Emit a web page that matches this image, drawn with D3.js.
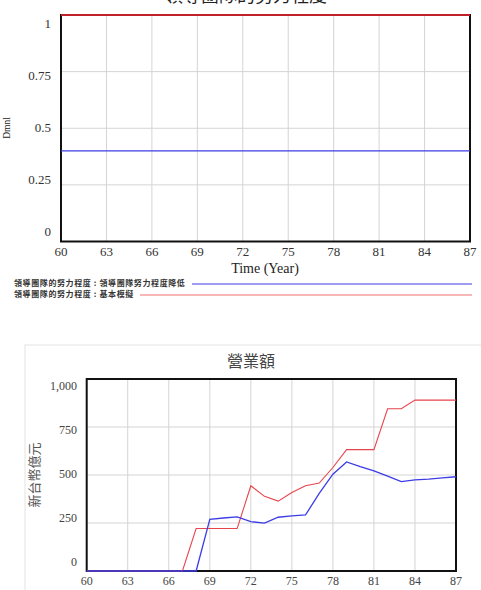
<!DOCTYPE html>
<html>
<head>
<meta charset="utf-8">
<script src="https://cdn.jsdelivr.net/npm/d3@7"></script>
<style>
body { margin: 0; background: white; }
svg { display: block; }
</style>
</head>
<body>
<div id="chart"></div>
<script>
var width = 481
var height = 590

// Data

var years = d3.range(60, 88)
var xTicks = [60, 63, 66, 69, 72, 75, 78, 81, 84, 87]

// top chart: 領導團隊的努力程度
var effortTicks = [0, 0.25, 0.5, 0.75, 1]
var effortLow = [0.4, 0.4]
var effortBase = [1, 1]
var effortYears = [60, 87]

// bottom chart: 營業額
var revenueTicks = [0, 250, 500, 750, 1000]
var revenueBase = [0, 0, 0, 0, 0, 0, 0, 0, 221, 221, 221, 221, 444, 389, 364, 409, 444, 458, 539, 632, 632, 632, 845, 845, 890, 890, 890, 890]
var revenueLow = [0, 0, 0, 0, 0, 0, 0, 0, 0, 269, 276, 282, 257, 249, 280, 287, 292, 404, 504, 568, 544, 522, 494, 466, 475, 479, 485, 491]

var legendLabels = ["領導團隊的努力程度 : 領導團隊努力程度降低", "領導團隊的努力程度 : 基本模擬"]

var blue = "#3c3ce6"
var red = "#e8444c"
var grid = "#d4d4d4"

var svg = d3.select("#chart")
    .append("svg")
    .attr("width", width)
    .attr("height", height)
    .style("background-color", "white")

// ---------- top chart ----------

var x1 = d3.scaleLinear().domain([60, 87]).range([61, 470])
var y1 = d3.scaleLinear().domain([0, 1]).range([241.5, 15])
var y1Lab = d3.scaleLinear().domain([0, 1]).range([233, 25])

var topChart = svg.append("g")

topChart.append("text")
    .attr("x", 246).attr("y", 2)
    .attr("text-anchor", "middle")
    .style("font-family", "Noto Sans CJK TC")
    .style("font-size", "18px")
    .style("fill", "#222")
    .text("領導團隊的努力程度")

topChart.append("g")
    .selectAll("line")
    .data(xTicks)
    .enter().append("line")
    .attr("x1", d => x1(d)).attr("x2", d => x1(d))
    .attr("y1", y1(0)).attr("y2", y1(1))
    .style("stroke", grid)

topChart.append("g")
    .selectAll("line")
    .data(effortTicks)
    .enter().append("line")
    .attr("x1", x1(60)).attr("x2", x1(87))
    .attr("y1", d => y1(d)).attr("y2", d => y1(d))
    .style("stroke", grid)

topChart.append("rect")
    .attr("x", x1(60)).attr("y", y1(1))
    .attr("width", x1(87) - x1(60)).attr("height", y1(0) - y1(1))
    .style("fill", "none").style("stroke", "#111").style("stroke-width", 2)

topChart.append("g")
    .selectAll("text")
    .data(effortTicks)
    .enter().append("text")
    .attr("x", 51).attr("y", d => y1Lab(d))
    .attr("text-anchor", "end")
    .attr("dominant-baseline", "middle")
    .style("font-family", "Liberation Serif")
    .style("font-size", "13px")
    .style("fill", "#333")
    .text(d => d)

topChart.append("g")
    .selectAll("text")
    .data(xTicks)
    .enter().append("text")
    .attr("x", d => x1(d)).attr("y", 253)
    .attr("text-anchor", "middle")
    .attr("dominant-baseline", "middle")
    .style("font-family", "Liberation Serif")
    .style("font-size", "13px")
    .style("fill", "#333")
    .text(d => d)

topChart.append("text")
    .attr("x", 265).attr("y", 270)
    .attr("text-anchor", "middle")
    .attr("dominant-baseline", "middle")
    .style("font-family", "Liberation Serif")
    .style("font-size", "14px")
    .style("fill", "#222")
    .text("Time (Year)")

topChart.append("text")
    .attr("transform", "translate(8,128) rotate(-90)")
    .attr("text-anchor", "middle")
    .attr("dominant-baseline", "middle")
    .style("font-family", "Liberation Serif")
    .style("font-size", "9.5px")
    .style("fill", "#222")
    .text("Dmnl")

var line1 = d3.line()
    .x((d, i) => x1(effortYears[i]))
    .y(d => y1(d))

topChart.append("path").datum(effortLow)
    .attr("d", line1)
    .style("fill", "none").style("stroke", blue).style("stroke-width", 1.2)

topChart.append("path").datum(effortBase)
    .attr("d", line1)
    .style("fill", "none").style("stroke", "#c02028").style("stroke-width", 2)

// legend
var legend = topChart.append("g")
var legendY = [284, 295]
var legendStart = [192, 140]
var legendColors = [blue, "#f07070"]

legend.selectAll("text")
    .data(legendLabels)
    .enter().append("text")
    .attr("x", 14).attr("y", (d, i) => legendY[i])
    .attr("dominant-baseline", "middle")
    .style("font-family", "Noto Sans CJK TC")
    .style("font-size", "8px")
    .style("letter-spacing", "0.6px")
    .style("font-weight", "bold")
    .style("fill", "#333")
    .text(d => d)

legend.selectAll("line")
    .data(legendLabels)
    .enter().append("line")
    .attr("x1", (d, i) => legendStart[i]).attr("x2", 472)
    .attr("y1", (d, i) => legendY[i]).attr("y2", (d, i) => legendY[i])
    .style("stroke", (d, i) => legendColors[i])
    .style("stroke-width", 1.2)

// ---------- bottom chart ----------

var x2 = d3.scaleLinear().domain([60, 87]).range([86.7, 456])
var y2 = d3.scaleLinear().domain([0, 1000]).range([571, 379])
var y2Lab = d3.scaleLinear().domain([0, 1000]).range([563, 387])

var bottomChart = svg.append("g")

bottomChart.append("rect")
    .attr("x", 25).attr("y", 345)
    .attr("width", 500).attr("height", 300)
    .style("fill", "none").style("stroke", "#e4e4e4")

bottomChart.append("text")
    .attr("x", 251).attr("y", 363)
    .attr("text-anchor", "middle")
    .attr("dominant-baseline", "middle")
    .style("font-family", "Noto Sans CJK TC")
    .style("font-size", "16px")
    .style("fill", "#444")
    .text("營業額")

bottomChart.append("g")
    .selectAll("line")
    .data(xTicks)
    .enter().append("line")
    .attr("x1", d => x2(d)).attr("x2", d => x2(d))
    .attr("y1", y2(0)).attr("y2", y2(1000))
    .style("stroke", grid)

bottomChart.append("g")
    .selectAll("line")
    .data(revenueTicks)
    .enter().append("line")
    .attr("x1", x2(60)).attr("x2", x2(87))
    .attr("y1", d => y2(d)).attr("y2", d => y2(d))
    .style("stroke", grid)

bottomChart.append("rect")
    .attr("x", x2(60)).attr("y", y2(1000))
    .attr("width", x2(87) - x2(60)).attr("height", y2(0) - y2(1000))
    .style("fill", "none").style("stroke", "#111").style("stroke-width", 2)

var line2 = d3.line()
    .x((d, i) => x2(years[i]))
    .y(d => y2(d))

bottomChart.append("path").datum(revenueBase)
    .attr("d", line2)
    .style("fill", "none").style("stroke", red).style("stroke-width", 1.1)

bottomChart.append("path").datum(revenueLow)
    .attr("d", line2)
    .style("fill", "none").style("stroke", blue).style("stroke-width", 1.3)

bottomChart.append("g")
    .selectAll("text")
    .data(revenueTicks)
    .enter().append("text")
    .attr("x", 77).attr("y", d => y2Lab(d))
    .attr("text-anchor", "end")
    .attr("dominant-baseline", "middle")
    .style("font-family", "Liberation Serif")
    .style("font-size", "12px")
    .style("fill", "#444")
    .text(d => d3.format(",")(d))

bottomChart.append("g")
    .selectAll("text")
    .data(xTicks)
    .enter().append("text")
    .attr("x", d => x2(d)).attr("y", 582)
    .attr("text-anchor", "middle")
    .attr("dominant-baseline", "middle")
    .style("font-family", "Liberation Serif")
    .style("font-size", "12px")
    .style("fill", "#444")
    .text(d => d)

bottomChart.append("text")
    .attr("transform", "translate(35,475) rotate(-90)")
    .attr("text-anchor", "middle")
    .attr("dominant-baseline", "middle")
    .style("font-family", "Noto Sans CJK TC")
    .style("font-size", "13px")
    .style("fill", "#555")
    .text("新台幣億元")
</script>
</body>
</html>
